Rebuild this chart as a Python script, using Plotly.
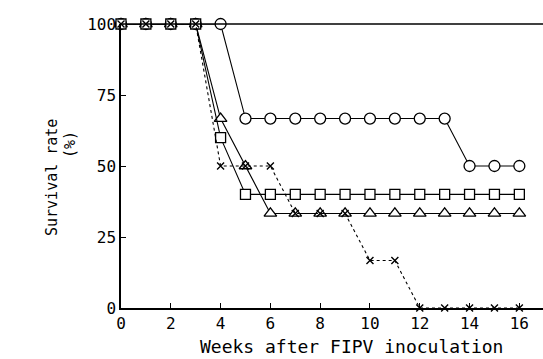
import plotly.graph_objects as go

weeks = list(range(0, 17))
circle_vals = [100, 100, 100, 100, 100, 66.7, 66.7, 66.7, 66.7, 66.7, 66.7, 66.7, 66.7, 66.7, 50, 50, 50]
square_vals = [100, 100, 100, 100, 60, 40, 40, 40, 40, 40, 40, 40, 40, 40, 40, 40, 40]
triangle_vals = [100, 100, 100, 100, 66.7, 50, 33.3, 33.3, 33.3, 33.3, 33.3, 33.3, 33.3, 33.3, 33.3, 33.3, 33.3]
cross_vals = [100, 100, 100, 100, 50, 50, 50, 33.3, 33.3, 33.3, 16.7, 16.7, 0, 0, 0, 0, 0]
x_ticks = [0, 2, 4, 6, 8, 10, 12, 14, 16]
y_ticks = [0, 25, 50, 75, 100]
x_title = "Weeks after FIPV inoculation"
y_title = "Survival rate"
y_unit = "(%)"

FONT = "DejaVu Sans Mono, Liberation Mono, monospace"

fig = go.Figure()
fig.add_trace(go.Scatter(x=weeks, y=circle_vals, mode="lines+markers",
                         line=dict(color="black", width=1.1),
                         marker=dict(symbol="circle", size=11, color="white", line=dict(color="black", width=1.3)),
                         cliponaxis=False))
fig.add_trace(go.Scatter(x=weeks, y=triangle_vals, mode="lines+markers",
                         line=dict(color="black", width=1.1),
                         marker=dict(symbol="triangle-up", size=11, color="white", line=dict(color="black", width=1.3)),
                         cliponaxis=False))
fig.add_trace(go.Scatter(x=weeks, y=square_vals, mode="lines+markers",
                         line=dict(color="black", width=1.1),
                         marker=dict(symbol="square", size=10, color="white", line=dict(color="black", width=1.3)),
                         cliponaxis=False))
fig.add_trace(go.Scatter(x=weeks, y=cross_vals, mode="lines+markers",
                         line=dict(color="black", width=1.1, dash="dot"),
                         marker=dict(symbol="x-thin", size=7, line=dict(color="black", width=1.4), color="black"),
                         cliponaxis=False))

fig.update_layout(
    width=543, height=359,
    margin=dict(l=121, r=0, t=24, b=51),
    paper_bgcolor="white", plot_bgcolor="white",
    showlegend=False,
    font=dict(family=FONT, color="black", size=16),
)
fig.update_xaxes(range=[0, 16.95], tickvals=x_ticks, ticks="inside", ticklen=5,
                 tickcolor="black", showline=True, linecolor="black", linewidth=1.5,
                 showgrid=False, zeroline=False, automargin=False,
                 tickfont=dict(size=16, family=FONT))
fig.update_yaxes(range=[0, 100], tickvals=y_ticks, ticks="inside", ticklen=5,
                 tickcolor="black", showline=True, linecolor="black", linewidth=1.5,
                 showgrid=False, zeroline=False, automargin=False,
                 tickfont=dict(size=16, family=FONT))
# top border line
fig.add_shape(type="line", xref="paper", yref="paper", x0=0, x1=1, y0=1, y1=1,
              line=dict(color="black", width=1.5))
# axis titles
fig.add_annotation(text=x_title, xref="paper", yref="paper", x=(351 - 121) / 422, y=-(346 - 308) / 284,
                   showarrow=False, xanchor="center", yanchor="middle",
                   font=dict(size=18, family=FONT))
fig.add_annotation(text=y_title, xref="paper", yref="paper", x=-(121 - 52) / 422, y=(308 - 178) / 284,
                   showarrow=False, xanchor="center", yanchor="middle", textangle=-90,
                   font=dict(size=15, family=FONT))
fig.add_annotation(text=y_unit, xref="paper", yref="paper", x=-(121 - 70) / 422, y=(308 - 145) / 284,
                   showarrow=False, xanchor="center", yanchor="middle", textangle=-90,
                   font=dict(size=15, family=FONT))

fig.write_html("out.html", config={"displayModeBar": False},
               post_script="document.body.style.margin='0';document.body.style.overflow='hidden';")
